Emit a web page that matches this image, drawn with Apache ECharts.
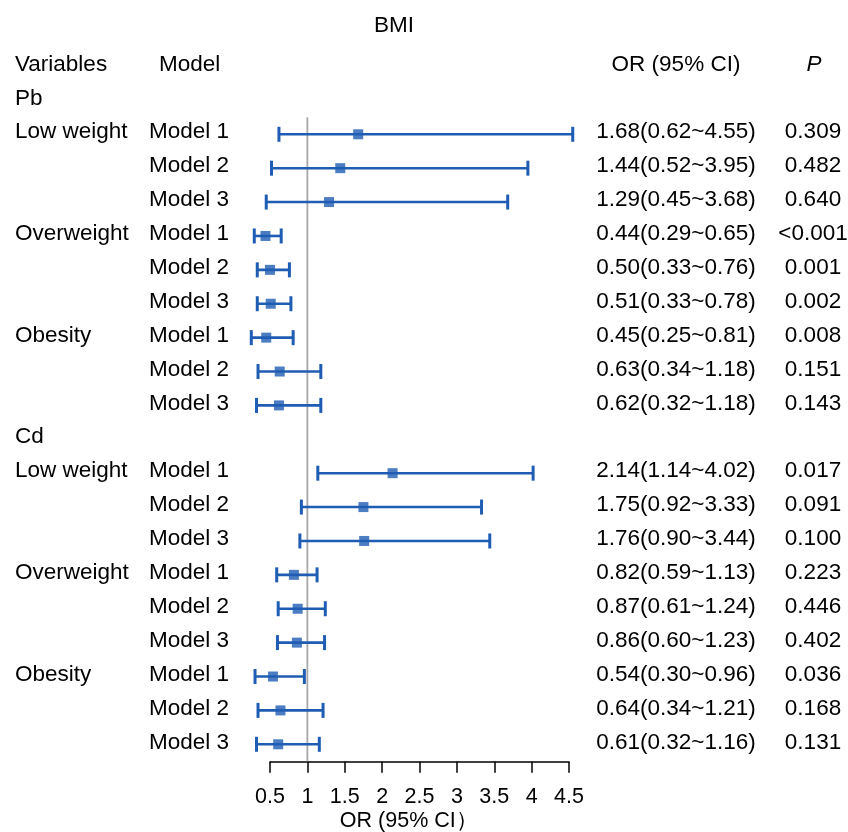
<!DOCTYPE html>
<html>
<head>
<meta charset="utf-8">
<script src="https://cdn.jsdelivr.net/npm/echarts@6/dist/echarts.min.js"></script>
<style>html,body{margin:0;padding:0;background:#fff}#c{width:848px;height:832px}</style>
</head>
<body>
<div id="c"></div>
<script>
// ---- data ----
const groups = ['Pb', 'Cd'];
const variables = ['Low weight', 'Overweight', 'Obesity'];
const models = ['Model 1', 'Model 2', 'Model 3'];

const orPb   = [1.68, 1.44, 1.29, 0.44, 0.50, 0.51, 0.45, 0.63, 0.62];
const lowPb  = [0.62, 0.52, 0.45, 0.29, 0.33, 0.33, 0.25, 0.34, 0.32];
const highPb = [4.55, 3.95, 3.68, 0.65, 0.76, 0.78, 0.81, 1.18, 1.18];
const pPb    = ['0.309', '0.482', '0.640', '<0.001', '0.001', '0.002', '0.008', '0.151', '0.143'];

const orCd   = [2.14, 1.75, 1.76, 0.82, 0.87, 0.86, 0.54, 0.64, 0.61];
const lowCd  = [1.14, 0.92, 0.90, 0.59, 0.61, 0.60, 0.30, 0.34, 0.32];
const highCd = [4.02, 3.33, 3.44, 1.13, 1.24, 1.23, 0.96, 1.21, 1.16];
const pCd    = ['0.017', '0.091', '0.100', '0.223', '0.446', '0.402', '0.036', '0.168', '0.131'];

const xTicks = [0.5, 1, 1.5, 2, 2.5, 3, 3.5, 4, 4.5];
const refValue = 1;

// ---- build rows ----
const sets = [
  {or: orPb, lo: lowPb, hi: highPb, p: pPb},
  {or: orCd, lo: lowCd, hi: highCd, p: pCd}
];
const rows = [];
groups.forEach((g, gi) => {
  rows.push({head: g});
  const s = sets[gi];
  for (let i = 0; i < s.or.length; i++) {
    rows.push({
      variable: i % 3 === 0 ? variables[Math.floor(i / 3)] : '',
      model: models[i % 3],
      or: s.or[i], lo: s.lo[i], hi: s.hi[i], p: s.p[i]
    });
  }
});
const fmt = v => v.toFixed(2);

const barData = [], pointData = [];
rows.forEach((r, i) => {
  if (r.head) return;
  barData.push([r.lo, r.hi, i]);
  pointData.push([r.or, i]);
});

const BLUE = '#1f5db4';
const FONT = "'Liberation Sans', Arial, sans-serif";
const FS = 22.5;

const chart = echarts.init(document.getElementById('c'), null, {renderer: 'canvas'});
chart.setOption({
  backgroundColor: '#fff',
  animation: false,
  grid: [
    {left: 232.6, width: 336.4, top: 100.4, height: 643.9, containLabel: false, outerBoundsMode: 'none'},
    {left: 270, width: 299, top: 100, height: 661.7, containLabel: false, outerBoundsMode: 'none'}
  ],
  xAxis: [
    {gridIndex: 0, type: 'value', min: 0, max: 4.5,
     axisLine: {show: false}, axisTick: {show: false}, axisLabel: {show: false}, splitLine: {show: false},
     name: 'OR (95% CI）', nameLocation: 'middle', nameGap: 66,
     nameTextStyle: {fontFamily: FONT, fontSize: 21.5, color: '#000', padding: [0, 0, 0, 16]}},
    {gridIndex: 1, type: 'value', min: 0.5, max: 4.5, interval: 0.5,
     axisLine: {show: true, onZero: false, lineStyle: {color: '#000', width: 1.5}},
     axisTick: {show: true, length: 11, lineStyle: {color: '#000', width: 1.5}},
     axisLabel: {show: true, margin: 24, fontFamily: FONT, fontSize: 21.5, color: '#000',
       formatter: v => String(v)},
     splitLine: {show: false}}
  ],
  yAxis: [
    {gridIndex: 0, type: 'value', min: 0, max: 19, inverse: true, show: false},
    {gridIndex: 1, type: 'value', min: 0, max: 1, show: false}
  ],
  graphic: [
    {type: 'text', x: 394, y: 26, style: {text: 'BMI', align: 'center', verticalAlign: 'middle', font: `${FS}px ${FONT}`, fill: '#000'}},
    {type: 'text', x: 15, y: 64.5, style: {text: 'Variables', align: 'left', verticalAlign: 'middle', font: `${FS}px ${FONT}`, fill: '#000'}},
    {type: 'text', x: 159, y: 64.5, style: {text: 'Model', align: 'left', verticalAlign: 'middle', font: `${FS}px ${FONT}`, fill: '#000'}},
    {type: 'text', x: 676, y: 64.5, style: {text: 'OR (95% CI)', align: 'center', verticalAlign: 'middle', font: `${FS}px ${FONT}`, fill: '#000'}},
    {type: 'text', x: 814, y: 64.5, style: {text: 'P', align: 'center', verticalAlign: 'middle', font: `italic ${FS}px ${FONT}`, fill: '#000'}}
  ],
  series: [
    {
      type: 'custom', xAxisIndex: 0, yAxisIndex: 0, clip: false, silent: true,
      data: [[refValue, 0.5, 19.5]],
      renderItem: (params, api) => {
        const a = api.coord([api.value(0), api.value(1)]);
        const b = api.coord([api.value(0), api.value(2)]);
        return {type: 'line', shape: {x1: a[0], y1: a[1], x2: b[0], y2: b[1]},
          style: {stroke: '#a8a8a8', lineWidth: 1.8}};
      }
    },
    {
      type: 'custom', xAxisIndex: 0, yAxisIndex: 0, clip: false, silent: true,
      data: barData,
      renderItem: (params, api) => {
        const r = api.value(2);
        const a = api.coord([api.value(0), r]);
        const b = api.coord([api.value(1), r]);
        const h = 7.5;
        const st = {stroke: BLUE, lineWidth: 2.6};
        return {type: 'group', children: [
          {type: 'line', shape: {x1: a[0], y1: a[1], x2: b[0], y2: b[1]}, style: st},
          {type: 'line', shape: {x1: a[0], y1: a[1] - h, x2: a[0], y2: a[1] + h}, style: {stroke: BLUE, lineWidth: 3}},
          {type: 'line', shape: {x1: b[0], y1: b[1] - h, x2: b[0], y2: b[1] + h}, style: {stroke: BLUE, lineWidth: 3}}
        ]};
      }
    },
    {
      type: 'scatter', xAxisIndex: 0, yAxisIndex: 0, silent: true,
      data: pointData, symbol: 'rect', symbolSize: 10,
      itemStyle: {color: BLUE}, z: 5
    },
    {
      type: 'custom', xAxisIndex: 0, yAxisIndex: 0, clip: false, silent: true,
      data: rows.map((r, i) => [0, i]),
      renderItem: (params, api) => {
        const r = rows[params.dataIndex];
        const y = api.coord([0, api.value(1)])[1] - 2;
        const t = (text, x, align) => ({type: 'text', x: x, y: y,
          style: {text: text, align: align, verticalAlign: 'middle', font: `${FS}px ${FONT}`, fill: '#000'}});
        if (r.head) return {type: 'group', children: [t(r.head, 15, 'left')]};
        return {type: 'group', children: [
          t(r.variable, 15, 'left'),
          t(r.model, 149, 'left'),
          t(`${fmt(r.or)}(${fmt(r.lo)}~${fmt(r.hi)})`, 676, 'center'),
          t(r.p, 813, 'center')
        ]};
      }
    }
  ]
});
</script>
</body>
</html>
